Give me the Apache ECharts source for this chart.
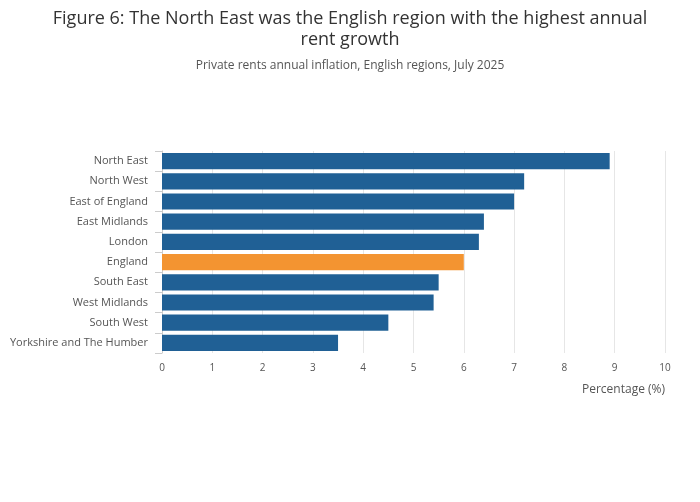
<!DOCTYPE html>
<html><head><meta charset="utf-8">
<script src="https://cdn.jsdelivr.net/npm/echarts@6/dist/echarts.min.js"></script>
<style>html,body{margin:0;padding:0;background:#fff}#c{width:700px;height:502px}</style>
</head><body><div id="c"></div>
<script>
const categories = ["North East","North West","East of England","East Midlands","London","England","South East","West Midlands","South West","Yorkshire and The Humber"];
const values = [8.9,7.2,7.0,6.4,6.3,6.0,5.5,5.4,4.5,3.5];
const highlight = "England";
const F = "'Open Sans', sans-serif";
const chart = echarts.init(document.getElementById('c'));
chart.setOption({
  animation:false,
  title:{text:"Figure 6: The North East was the English region with the highest annual\nrent growth",
    subtext:"Private rents annual inflation, English regions, July 2025",
    left:'center', top:3, itemGap:10,
    textStyle:{fontFamily:F,fontSize:18,fontWeight:'normal',color:'#333',lineHeight:21},
    subtextStyle:{fontFamily:F,fontSize:12,color:'#555'}},
  grid:{left:162,right:35,top:151,bottom:149},
  xAxis:{type:'value',min:0,max:10,interval:1,
    name:'Percentage (%)',nameLocation:'end',nameGap:0,
    nameTextStyle:{fontFamily:F,fontSize:12,color:'#555',align:'right',verticalAlign:'top',padding:[31,0,0,0]},
    axisLabel:{fontFamily:F,fontSize:10,color:'#555',margin:10},
    splitLine:{lineStyle:{color:'#e6e6e6'}},axisLine:{show:false},axisTick:{show:false}},
  yAxis:{type:'category',inverse:true,data:categories,
    axisLabel:{fontFamily:F,fontSize:11,color:'#555',margin:14},
    axisLine:{show:true,lineStyle:{color:'#ccc'}},
    axisTick:{show:true,length:7,lineStyle:{color:'#ccc'}}},
  series:[{type:'bar',barCategoryGap:'20%',
    data:values.map((v,i)=>({value:v,itemStyle:{color:categories[i]===highlight?'#f39431':'#206095'}}))}]
});
</script></body></html>
